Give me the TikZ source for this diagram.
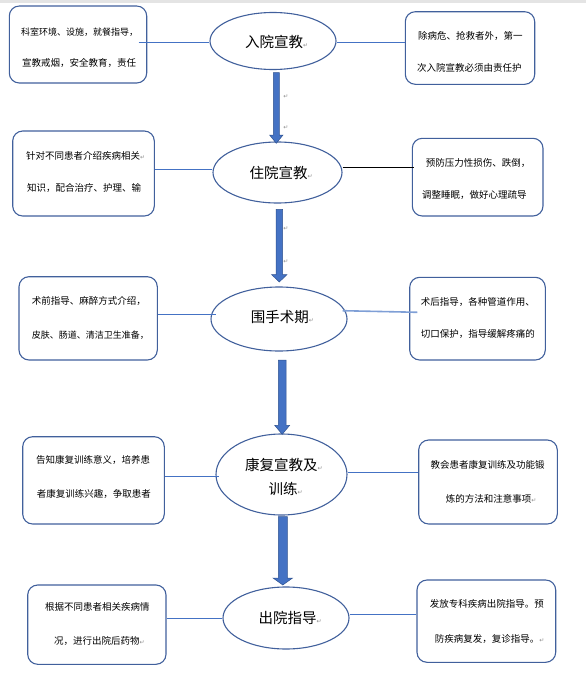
\documentclass[tikz,border=0pt]{standalone}
\usepackage{fontspec}
\setmainfont{Noto Sans CJK SC}
\newfontfamily\dejavu{DejaVu Sans}
\usetikzlibrary{shapes.geometric,calc}
\definecolor{boxblue}{HTML}{41609C}
\definecolor{lineblue}{HTML}{4472C4}
\definecolor{arrowfill}{HTML}{4472C4}
\definecolor{arrowedge}{HTML}{2F528F}
\definecolor{lightline}{HTML}{7F9FD6}
\definecolor{retgray}{HTML}{8C8C8C}
\definecolor{bandgray}{HTML}{E4E4E4}
\newcommand\retmark{{\dejavu\fontsize{6}{6}\selectfont\color{retgray}↵}}
\newcommand\blkarrow[5]{%
  \filldraw[blockarrow] let \p1=(#1), \p2=(#2) in
   (\x1-#3pt,\y1) -- (\x1+#3pt,\y1) -- (\x1+#3pt,\y2+#5pt) -- (\x1+#4pt,\y2+#5pt)
   -- (\x1,\y2) -- (\x1-#4pt,\y2+#5pt) -- (\x1-#3pt,\y2+#5pt) -- cycle;}
\begin{document}
\begin{tikzpicture}[x=1pt,y=-1pt,
  box/.style={draw=boxblue, line width=1.1pt, rounded corners=10pt, inner sep=0pt},
  ell/.style={ellipse, draw=boxblue, line width=1.1pt, inner sep=0pt},
  small/.style={inner sep=0pt, anchor=west, font=\fontsize{9.5}{9.5}\selectfont},
  smaller/.style={small, font=\fontsize{9}{9}\selectfont},
  big/.style={inner sep=0pt, anchor=west, font=\fontsize{14.5}{14.5}\selectfont},
  conn/.style={draw=lineblue, line width=0.9pt},
  blockarrow/.style={fill=arrowfill, draw=arrowedge, line width=0.5pt},
  retnode/.style={inner sep=0pt}]
\useasboundingbox (0,0) rectangle (586,675);
\fill[bandgray] (0,0) rectangle (586,3);

% boxes
\node[box, minimum width=137.4pt, minimum height=77pt]   (l1) at (78,44.5) {};
\node[box, minimum width=129.4pt, minimum height=72.6pt] (r1) at (470,48) {};
\node[box, minimum width=141.6pt, minimum height=85pt]   (l2) at (83.5,173.5) {};
\node[box, minimum width=130.7pt, minimum height=77.7pt] (r2) at (477.65,177.15) {};
\node[box, minimum width=138.3pt, minimum height=83.3pt] (l3) at (88.15,318.35) {};
\node[box, minimum width=135.6pt, minimum height=82.7pt] (r3) at (477.5,318.65) {};
\node[box, minimum width=141.6pt, minimum height=87.3pt] (l4) at (93.5,480.35) {};
\node[box, minimum width=138.6pt, minimum height=84pt]   (r4) at (488,482) {};
\node[box, minimum width=138.3pt, minimum height=79.3pt] (l5) at (96.85,624.65) {};
\node[box, minimum width=138.7pt, minimum height=82.3pt] (r5) at (486.35,621.15) {};

% ellipses
\node[ell, minimum width=126pt, minimum height=57pt] (e1) at (273,41) {};
\node[ell, minimum width=129pt, minimum height=61pt] (e2) at (277.5,172.5) {};
\node[ell, minimum width=136pt, minimum height=64pt] (e3) at (279,319) {};
\node[ell, minimum width=131pt, minimum height=81pt] (e4) at (281.5,474.5) {};
\node[ell, minimum width=126pt, minimum height=62pt] (e5) at (286,618) {};

% ellipse texts
\node[big] (e1t) at (245,42) {入院宣教\retmark};
\node[big] (e2t) at (249.3,173) {住院宣教\retmark};
\node[big] (e3t) at (250.7,317) {围手术期\retmark};
\node[big] (e4ta) at (245,465) {康复宣教及\retmark};
\node[big] (e4tb) at (268.3,489.3) {训练\retmark};
\node[big] (e5t) at (258.3,618.3) {出院指导\retmark};

% box texts
\node[smaller] (l1a) at (21,32) {科室环境、设施，就餐指导，};
\node[small] (l1b) at (22,63) {宣教戒烟，安全教育，责任};
\node[small] (r1a) at (418,35.7) {除病危、抢救者外，第一};
\node[small] (r1b) at (417,68.3) {次入院宣教必须由责任护};
\node[small] (l2a) at (26,156) {针对不同患者介绍疾病相关\retmark};
\node[small] (l2b) at (27,188) {知识，配合治疗、护理、输};
\node[small] (r2a) at (425.7,162.7) {预防压力性损伤、跌倒，};
\node[small] (r2b) at (422,195) {调整睡眠，做好心理疏导};
\node[small] (l3a) at (31.7,301) {术前指导、麻醉方式介绍，};
\node[smaller] (l3b) at (31.7,335) {皮肤、肠道、清洁卫生准备，};
\node[small] (r3a) at (420.7,302.3) {术后指导，各种管道作用、};
\node[small] (r3b) at (420.7,334.3) {切口保护，指导缓解疼痛的};
\node[small] (l4a) at (36,460) {告知康复训练意义，培养患};
\node[small] (l4b) at (36.7,494) {者康复训练兴趣，争取患者};
\node[small] (r4a) at (430.3,465) {教会患者康复训练及功能锻};
\node[small] (r4b) at (445.7,499) {炼的方法和注意事项\retmark};
\node[small] (l5a) at (45,606.7) {根据不同患者相关疾病情};
\node[small] (l5b) at (54,641) {况，进行出院后药物\retmark};
\node[small] (r5a) at (429.7,604.3) {发放专科疾病出院指导。预};
\node[small] (r5b) at (434.7,639) {防疾病复发，复诊指导。\retmark};

% stray paragraph marks
\node[retnode] (m1) at (286,97) {\retmark};
\node[retnode] (m2) at (286,128) {\retmark};
\node[retnode] (m3) at (286,228.3) {\retmark};
\node[retnode] (m4) at (286,261.7) {\retmark};

% connectors
\draw[conn] ($(l1.east |- 0,42.7)+(-8.7,0)$) -- (e1.west |- 0,42.7);
\draw[conn] (e1.east |- 0,42.3) -- (r1.west |- 0,42.3);
\draw[conn] (l2.east |- 0,169.3) -- (e2.west |- 0,169.3);
\draw[draw=black, line width=0.9pt] (e2.east |- 0,167.3) -- ($(r2.west |- 0,167.3)+(2.4,0)$);
\draw[conn] (l3.east |- 0,314.3) -- ($(e3.west |- 0,314.3)+(5.7,0)$);
\draw[draw=lightline, line width=1.6pt] ($(e3.east |- 0,310.7)+(-5,0)$) -- ($(r3.west |- 0,312.3)+(8.3,0)$);
\draw[conn] (l4.east |- 0,476.7) -- ($(e4.west |- 0,476.7)+(4,0)$);
\draw[conn] (e4.east |- 0,472.7) -- (r4.west |- 0,472.7);
\draw[conn] (l5.east |- 0,618.3) -- (e5.west |- 0,618.3);
\draw[conn] (e5.east |- 0,614) -- (r5.west |- 0,614);

% block arrows
\coordinate (a1s) at (276.3,72.7);  \coordinate (a1e) at (276.3,143.3);
\coordinate (a2s) at (279.3,209.3); \coordinate (a2e) at (279.3,282);
\coordinate (a3s) at (282.2,360);   \coordinate (a3e) at (282.2,434.3);
\coordinate (a4s) at (282.8,516.7); \coordinate (a4e) at (282.8,585);
\blkarrow{a1s}{a1e}{3}{6.7}{8.3}
\blkarrow{a2s}{a2e}{3.3}{7.8}{7.5}
\blkarrow{a3s}{a3e}{3.9}{7.5}{9}
\blkarrow{a4s}{a4e}{4.5}{9.8}{7}
\end{tikzpicture}
\end{document}
